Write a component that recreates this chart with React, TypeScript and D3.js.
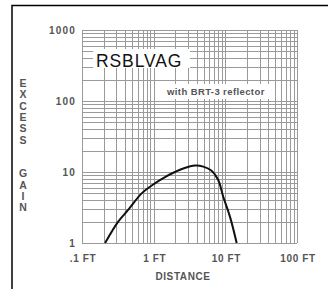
import { useEffect, useRef } from "react";
import * as d3 from "d3";

// distance (ft) vs excess gain
const distance = [0.21, 0.32, 0.44, 0.68, 1.04, 1.44, 1.98, 2.59, 3.77, 4.92, 6.44, 7.96, 9.35, 11.6, 14.4];
const gain = [1.0, 2.0, 2.92, 5.0, 6.93, 8.5, 10.0, 11.2, 12.3, 11.9, 10.4, 7.7, 4.49, 2.35, 1.0];

const xTicks = [0.1, 1, 10, 100];
const xTickLabels = [".1 FT", "1 FT", "10 FT", "100 FT"];
const yTicks = [1, 10, 100, 1000];
const yTickLabels = ["1", "10", "100", "1000"];
const yTitle = "EXCESS  GAIN";

const W = 331;
const H = 289;
const FONT = "'Liberation Sans', Arial, sans-serif";
const TXT = "#555";

const App = () => {
  const ref = useRef<SVGSVGElement>(null);

  useEffect(() => {
    const svg = d3.select(ref.current);
    svg.selectAll("*").remove();

    const x = d3.scaleLog().domain([0.1, 100]).range([82, 297]);
    const y = d3.scaleLog().domain([1, 1000]).range([243, 30]);

    // frame (top + left only)
    svg.append("path")
      .attr("d", "M12,289 V5.5 H328")
      .attr("fill", "none")
      .attr("stroke", "#000")
      .attr("stroke-width", 1.5);

    // log grid
    const minor = (lo: number, hi: number) => {
      const out: number[] = [];
      for (let dec = lo; dec < hi; dec *= 10) {
        for (let k = 1; k <= 9; k++) out.push(dec * k);
      }
      out.push(hi);
      return out;
    };
    const grid = svg.append("g").attr("stroke", "#9a9a9a").attr("stroke-width", 1);
    minor(0.1, 100).forEach((v) => {
      const px = Math.round(x(v)) + 0.5;
      grid.append("line").attr("x1", px).attr("x2", px).attr("y1", y(1000)).attr("y2", y(1));
    });
    minor(1, 1000).forEach((v) => {
      const py = Math.round(y(v)) + 0.5;
      grid.append("line").attr("x1", x(0.1)).attr("x2", x(100)).attr("y1", py).attr("y2", py);
    });

    // white boxes behind the labels
    svg.append("rect").attr("x", 93).attr("y", 49).attr("width", 97).attr("height", 19).attr("fill", "#fff");
    svg.append("rect").attr("x", 163).attr("y", 84).attr("width", 112).attr("height", 15).attr("fill", "#fff");

    svg.append("text")
      .attr("x", 96).attr("y", 67)
      .attr("font-family", FONT).attr("font-size", 17.5)
      .attr("letter-spacing", 0.9)
      .attr("fill", "#111")
      .text("RSBLVAG");

    svg.append("text")
      .attr("x", 167).attr("y", 95)
      .attr("font-family", FONT).attr("font-size", 9.5)
      .attr("font-weight", "bold").attr("letter-spacing", 0.4)
      .attr("fill", TXT)
      .text("with BRT-3 reflector");

    // curve
    const line = d3.line<number>()
      .x((d, i) => x(distance[i]))
      .y((d) => y(d))
      .curve(d3.curveCatmullRom.alpha(0.5));
    svg.append("path")
      .datum(gain)
      .attr("d", line)
      .attr("fill", "none")
      .attr("stroke", "#111")
      .attr("stroke-width", 2);

    // y tick labels
    yTicks.forEach((v, i) => {
      svg.append("text")
        .attr("x", 76).attr("y", y(v) + 3.5)
        .attr("text-anchor", "end")
        .attr("font-family", FONT).attr("font-size", 10)
        .attr("font-weight", "bold").attr("letter-spacing", 1.2)
        .attr("fill", TXT)
        .text(yTickLabels[i]);
    });

    // x tick labels
    xTicks.forEach((v, i) => {
      svg.append("text")
        .attr("x", x(v) + 1).attr("y", 262)
        .attr("text-anchor", "middle")
        .attr("font-family", FONT).attr("font-size", 10)
        .attr("font-weight", "bold").attr("letter-spacing", 0.6)
        .attr("fill", TXT)
        .text(xTickLabels[i]);
    });

    svg.append("text")
      .attr("x", 183).attr("y", 280)
      .attr("text-anchor", "middle")
      .attr("font-family", FONT).attr("font-size", 10)
      .attr("font-weight", "bold").attr("letter-spacing", 0.6)
      .attr("fill", TXT)
      .text("DISTANCE");

    // stacked vertical title
    yTitle.split("").forEach((ch, i) => {
      svg.append("text")
        .attr("x", 23).attr("y", 87 + i * 11.3)
        .attr("text-anchor", "middle")
        .attr("font-family", FONT).attr("font-size", 10.5)
        .attr("font-weight", "bold")
        .attr("fill", TXT)
        .text(ch);
    });
  }, []);

  return (
    <div style={{ position: "absolute", left: 0, top: 0, width: W, height: H, background: "#fff" }}>
      <svg ref={ref} width={W} height={H} />
    </div>
  );
};

export default App;
